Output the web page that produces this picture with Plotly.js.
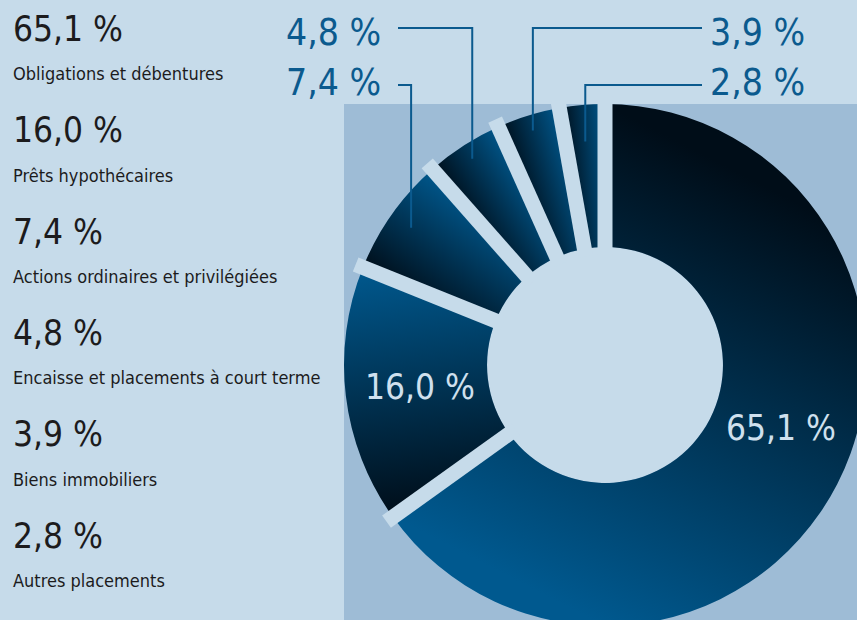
<!DOCTYPE html>
<html><head><meta charset="utf-8">
<script src="https://cdn.plot.ly/plotly-3.0.1.min.js"></script>
<style>html,body{margin:0;padding:0;overflow:hidden;background:#c6dbea}#chart{width:880px;height:640px}</style>
</head><body><div id="chart"></div>
<script>
// ---- data ----
const categories = ["Obligations et débentures", "Prêts hypothécaires", "Actions ordinaires et privilégiées",
  "Encaisse et placements à court terme", "Biens immobiliers", "Autres placements"];
const values = [65.1, 16.0, 7.4, 4.8, 3.9, 2.8];
const valueLabels = ["65,1 %", "16,0 %", "7,4 %", "4,8 %", "3,9 %", "2,8 %"];

// ---- layout constants ----
const W = 880, H = 640, CX = 605, CY = 365, R = 261, HOLE = 0.452;
const BG = '#c6dbea', PANEL = '#9ebcd6', DARK = '#1c1b1d', BLUE = '#0b5a8e';
const FONT = '"Liberation Sans Narrow", "DejaVu Sans Condensed", "Arial Narrow", sans-serif';
const px2x = p => (p - CX) / R;
const py2y = q => (CY - q) / R;

const total = values.reduce((a, b) => a + b, 0);
const starts = [], ends = [];
let acc = 0;
values.forEach(v => { starts.push(acc / total * 360); acc += v; ends.push(acc / total * 360); });
const rad = d => d * Math.PI / 180;
const mids = values.map((v, i) => (starts[i] + ends[i]) / 2);

const shapes = [];
// panel behind donut
shapes.push({type: 'rect', xref: 'x', yref: 'y', x0: -1, x1: px2x(W + 10), y0: py2y(H + 10), y1: 1,
  fillcolor: PANEL, line: {width: 0}, layer: 'below'});
// hole
shapes.push({type: 'circle', xref: 'x', yref: 'y', x0: -HOLE, x1: HOLE, y0: -HOLE, y1: HOLE,
  fillcolor: BG, line: {width: 0}, layer: 'below'});
// separating bars at slice boundaries
starts.forEach(a => {
  const r0 = HOLE - 0.03, r1 = 1.03;
  shapes.push({type: 'line', xref: 'x', yref: 'y', layer: 'above',
    x0: r0 * Math.sin(rad(a)), y0: r0 * Math.cos(rad(a)), x1: r1 * Math.sin(rad(a)), y1: r1 * Math.cos(rad(a)),
    line: {color: BG, width: 15}});
});

// leader lines for small slices
const leaders = [
  {i: 2, rowY: 85, side: 'left', textY: 82, rEnd: 0.91},
  {i: 3, rowY: 28, side: 'left', textY: 32, rEnd: 0.94},
  {i: 4, rowY: 28, side: 'right', textY: 32, rEnd: 0.94},
  {i: 5, rowY: 85, side: 'right', textY: 82, rEnd: 0.86}
];
const annotations = [];
leaders.forEach(L => {
  const a = rad(mids[L.i]);
  const xe = L.rEnd * Math.sin(a), ye = L.rEnd * Math.cos(a);
  const xs = px2x(L.side === 'left' ? 398 : 702);
  const yr = py2y(L.rowY);
  shapes.push({type: 'path', xref: 'x', yref: 'y', layer: 'above',
    path: `M${xs},${yr} L${xe},${yr} L${xe},${ye}`, line: {color: BLUE, width: 2}});
  annotations.push({xref: 'x', yref: 'y', x: px2x(L.side === 'left' ? 383 : 708), y: py2y(L.textY),
    xanchor: L.side === 'left' ? 'right' : 'left', yanchor: 'middle', showarrow: false,
    text: valueLabels[L.i], font: {family: FONT, size: 37, color: BLUE}});
});
// inside labels for large slices
const insideShift = [-7.4, 0];
[0, 1].forEach(i => {
  const a = rad(mids[i] + insideShift[i]);
  const r = 0.715;
  annotations.push({xref: 'x', yref: 'y', x: r * Math.sin(a), y: r * Math.cos(a), xanchor: 'center', yanchor: 'middle',
    showarrow: false, text: valueLabels[i], font: {family: FONT, size: 35, color: '#cfe0ee'}});
});
// left legend text
values.forEach((v, i) => {
  annotations.push({xref: 'paper', yref: 'paper', x: 11 / W, y: 1 - (29 + 101.3 * i) / H, xanchor: 'left', yanchor: 'middle',
    showarrow: false, text: valueLabels[i], font: {family: FONT, size: 35, color: DARK}});
  annotations.push({xref: 'paper', yref: 'paper', x: 11 / W, y: 1 - (74 + 101.3 * i) / H, xanchor: 'left', yanchor: 'middle',
    showarrow: false, text: categories[i], font: {family: FONT, size: 18, color: DARK}});
});

const data = [
  {type: 'scatter', x: [null], y: [null], hoverinfo: 'skip', showlegend: false},
  {type: 'pie', values: values, labels: categories, sort: false, direction: 'clockwise', rotation: 0,
    hole: HOLE, textinfo: 'none', hoverinfo: 'skip', showlegend: false,
    domain: {x: [(CX - R) / W, (CX + R) / W], y: [(H - CY - R) / H, (H - CY + R) / H]},
    marker: {colors: ['#003a63', '#002b4a', '#00304f', '#003354', '#003658', '#00385c'], line: {width: 0}}}
];

const layout = {
  width: W, height: H, margin: {l: 0, r: 0, t: 0, b: 0},
  paper_bgcolor: BG, plot_bgcolor: 'rgba(0,0,0,0)', showlegend: false,
  xaxis: {domain: [0, 1], range: [px2x(0), px2x(W)], visible: false, fixedrange: true},
  yaxis: {domain: [0, 1], range: [py2y(H), py2y(0)], visible: false, fixedrange: true},
  shapes: shapes, annotations: annotations
};

const gd = document.getElementById('chart');
Plotly.newPlot(gd, data, layout, {staticPlot: true, displayModeBar: false}).then(() => {
  try {
    const svg = gd.querySelector('svg.main-svg');
    let defs = svg.querySelector('defs');
    const NS = 'http://www.w3.org/2000/svg';
    const cd0 = gd.calcdata[1][0];
    const cx = cd0.cx, cy = cd0.cy, r = cd0.r;
    const paths = gd.querySelectorAll('.pielayer .slice path.surface');
    paths.forEach((p, i) => {
      const g = document.createElementNS(NS, 'linearGradient');
      g.setAttribute('id', 'slicegrad' + i);
      g.setAttribute('gradientUnits', 'userSpaceOnUse');
      const a0 = rad(starts[i]), a1 = rad(ends[i]);
      g.setAttribute('x1', cx + r * Math.sin(a0)); g.setAttribute('y1', cy - r * Math.cos(a0));
      g.setAttribute('x2', cx + r * Math.sin(a1)); g.setAttribute('y2', cy - r * Math.cos(a1));
      [['0', '#000d18'], ['1', '#00598f']].forEach(s => {
        const st = document.createElementNS(NS, 'stop');
        st.setAttribute('offset', s[0]); st.setAttribute('stop-color', s[1]);
        g.appendChild(st);
      });
      defs.appendChild(g);
      p.style.fill = 'url(#slicegrad' + i + ')';
    });
  } catch (e) { console.log(e); }
});
</script>
</body></html>
